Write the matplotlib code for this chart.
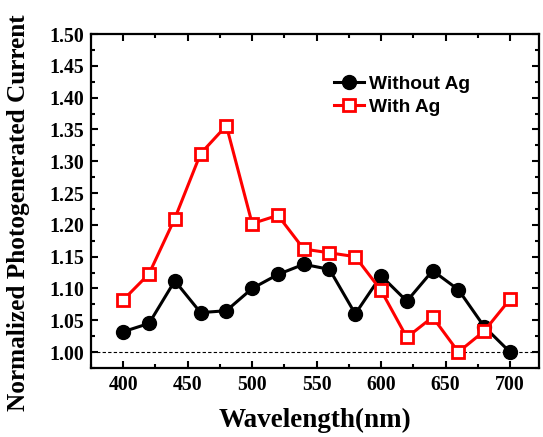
import numpy as np
import matplotlib
matplotlib.use('Agg')
import matplotlib.pyplot as plt
from matplotlib.ticker import MultipleLocator

wavelength = [400, 420, 440, 460, 480, 500, 520, 540, 560, 580, 600, 620, 640, 660, 680, 700]
without_ag = [1.032, 1.045, 1.112, 1.062, 1.065, 1.100, 1.122, 1.138, 1.130, 1.060,
              1.120, 1.080, 1.128, 1.098, 1.040, 1.000]
with_ag = [1.082, 1.123, 1.210, 1.312, 1.356, 1.202, 1.215, 1.162, 1.156, 1.150,
           1.097, 1.023, 1.055, 1.000, 1.033, 1.083]

fig = plt.figure(figsize=(5.43, 4.37), dpi=100)
ax = fig.add_axes([0.1676, 0.158, 0.825, 0.764])

ax.axhline(1.0, color='k', lw=0.8, ls=(0, (3, 2)), zorder=1)
ax.plot(wavelength, without_ag, '-o', color='k', lw=2.2, markersize=10,
        label='Without Ag', zorder=3)
ax.plot(wavelength, with_ag, '-s', color='red', lw=2.2, markersize=9,
        markerfacecolor='white', markeredgecolor='red', markeredgewidth=2,
        label='With Ag', zorder=4)

ax.set_xlim(375, 722.5)
ax.set_ylim(0.975, 1.5)
ax.xaxis.set_major_locator(MultipleLocator(50))
ax.xaxis.set_minor_locator(MultipleLocator(25))
ax.yaxis.set_major_locator(MultipleLocator(0.05))
ax.yaxis.set_minor_locator(MultipleLocator(0.025))
ax.yaxis.set_major_formatter(plt.FormatStrFormatter('%.2f'))
ax.tick_params(which='both', direction='in', top=True, right=True, width=1.5)
ax.tick_params(which='major', length=5, pad=5)
ax.tick_params(which='minor', length=3)
for s in ax.spines.values():
    s.set_linewidth(1.6)

tfont = {'family': 'Liberation Serif', 'weight': 'bold'}
for lab in ax.get_xticklabels() + ax.get_yticklabels():
    lab.set_fontfamily('Liberation Serif')
    lab.set_fontweight('bold')
    lab.set_fontsize(14.3)
ax.set_xlabel('Wavelength(nm)', fontsize=19.5, labelpad=9, **tfont)
ax.set_ylabel('Normalized Photogenerated Current', fontsize=18.2, **tfont)
ax.yaxis.set_label_coords(-0.136, 0.466)

leg = ax.legend(loc='upper left', bbox_to_anchor=(0.52, 0.905), frameon=False,
                prop={'family': 'Liberation Sans', 'weight': 'bold', 'size': 13.8},
                handlelength=1.6, handletextpad=0.25, labelspacing=0.3, borderpad=0)

fig.savefig('out.png', dpi=100)
